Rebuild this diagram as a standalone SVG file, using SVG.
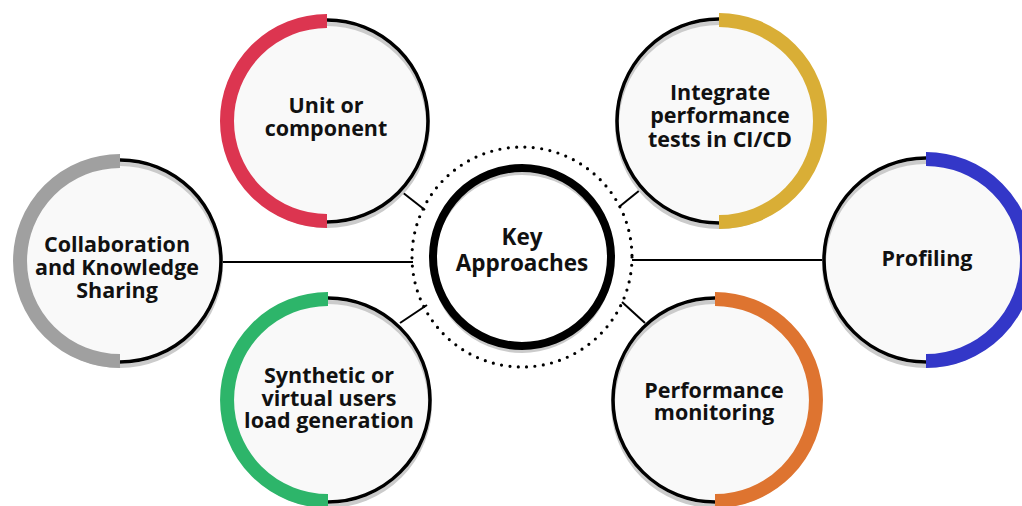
<svg xmlns="http://www.w3.org/2000/svg" width="1022" height="506" viewBox="0 0 1022 506">
  <defs>
    <style>
      .fill { fill: #f9f9f9; stroke: none; }
      .shadow { fill: none; stroke: #cbcbcb; stroke-width: 4; }
      .ring { fill: none; stroke: #000; stroke-width: 3.5; }
      .arc { fill: none; stroke-width: 14; stroke-linecap: butt; }
      .label { font-family: "Open Sans", "Liberation Sans", sans-serif; font-weight: 700; font-size: 21.5px; fill: #111; text-anchor: middle; }
      .hub-label { font-size: 22.5px; }
      .link { stroke: #000; stroke-width: 2; fill: none; }
      .dots { fill: none; stroke: #000; stroke-width: 3.2; stroke-linecap: round; stroke-dasharray: 0 8.4; }
    </style>
  </defs>
  <rect width="1022" height="506" fill="#fff"/>

  <!-- connectors between the hub and the six approaches -->
  <g id="connectors">
    <line class="link" x1="222" y1="262" x2="413" y2="262"/>
    <line class="link" x1="632" y1="260" x2="824" y2="260"/>
    <line class="link" x1="402" y1="192" x2="425" y2="210"/>
    <line class="link" x1="640" y1="190" x2="619" y2="207"/>
    <line class="link" x1="400" y1="323" x2="427" y2="305"/>
    <line class="link" x1="645" y1="323" x2="622" y2="302"/>
  </g>

  <!-- hub -->
  <g id="hub">
    <circle class="dots" cx="522" cy="257" r="110"/>
    <circle cx="522" cy="257" r="89" fill="#fff"/>
    <circle class="shadow" cx="522" cy="262" r="89" stroke-width="6"/>
    <circle cx="522" cy="257" r="89" fill="none" stroke="#000" stroke-width="8"/>
    <text class="label hub-label" x="522" y="245">Key</text>
    <text class="label hub-label" x="522" y="271">Approaches</text>
  </g>

  <!-- Unit or component -->
  <g id="node-unit">
    <circle class="fill" cx="327" cy="121" r="101"/>
    <circle class="shadow" cx="327" cy="125" r="101"/>
    <circle class="ring" cx="327" cy="121" r="101"/>
    <path class="arc" stroke="#dc3550" d="M327,21 A100,100 0 0 0 327,221"/>
    <text class="label" x="326" y="113">Unit or</text>
    <text class="label" x="326" y="136">component</text>
  </g>

  <!-- Integrate performance tests in CI/CD -->
  <g id="node-cicd">
    <circle class="fill" cx="719" cy="121" r="102"/>
    <circle class="shadow" cx="719" cy="125" r="102"/>
    <circle class="ring" cx="719" cy="121" r="102"/>
    <path class="arc" stroke="#d9ae36" d="M719,20 A101,101 0 0 1 719,222"/>
    <text class="label" x="720" y="100">Integrate</text>
    <text class="label" x="720" y="123">performance</text>
    <text class="label" x="720" y="147">tests in CI/CD</text>
  </g>

  <!-- Collaboration and Knowledge Sharing -->
  <g id="node-collab">
    <circle class="fill" cx="120" cy="261" r="101"/>
    <circle class="shadow" cx="120" cy="265" r="101"/>
    <circle class="ring" cx="120" cy="261" r="101"/>
    <path class="arc" stroke="#a0a0a0" d="M120,161 A100,100 0 0 0 120,361"/>
    <text class="label" x="117" y="252">Collaboration</text>
    <text class="label" x="117" y="275">and Knowledge</text>
    <text class="label" x="117" y="298">Sharing</text>
  </g>

  <!-- Profiling -->
  <g id="node-profiling">
    <circle class="fill" cx="926" cy="260" r="102"/>
    <circle class="shadow" cx="926" cy="264" r="102"/>
    <circle class="ring" cx="926" cy="260" r="102"/>
    <path class="arc" stroke="#3337c8" d="M926,159 A101,101 0 0 1 926,361"/>
    <text class="label" x="927" y="266">Profiling</text>
  </g>

  <!-- Synthetic or virtual users load generation -->
  <g id="node-synthetic">
    <circle class="fill" cx="328" cy="400" r="102"/>
    <circle class="shadow" cx="328" cy="404" r="102"/>
    <circle class="ring" cx="328" cy="400" r="102"/>
    <path class="arc" stroke="#2db56a" d="M328,299 A101,101 0 0 0 328,501"/>
    <text class="label" x="329" y="383">Synthetic or</text>
    <text class="label" x="329" y="406">virtual users</text>
    <text class="label" x="329" y="428">load generation</text>
  </g>

  <!-- Performance monitoring -->
  <g id="node-monitoring">
    <circle class="fill" cx="715" cy="400" r="102"/>
    <circle class="shadow" cx="715" cy="404" r="102"/>
    <circle class="ring" cx="715" cy="400" r="102"/>
    <path class="arc" stroke="#de7430" d="M715,299 A101,101 0 0 1 715,501"/>
    <text class="label" x="714" y="398">Performance</text>
    <text class="label" x="714" y="420">monitoring</text>
  </g>
</svg>
